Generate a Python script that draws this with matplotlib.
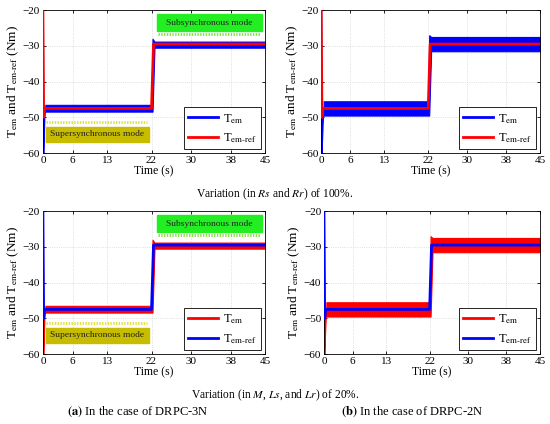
import matplotlib.pyplot as plt
from matplotlib.patches import Rectangle

plt.rcParams['font.family'] = ['Liberation Serif', 'DejaVu Serif']
plt.rcParams['mathtext.fontset'] = 'stix'

# time ticks and y range
xticks = [0, 6, 13, 22, 30, 38, 45]
yticks = [-60, -50, -40, -30, -20]

# reference torque (Nm)
t_ref = [0, 0.15, 0.3, 0.5, 22.0, 22.4, 45]
tem_ref = [-20, -50, -48, -47.5, -47.5, -29.5, -29.5]

# electromagnetic torque, transient part
t_tr = [0, 0.08, 0.3, 0.5]
tem_tr_3n = [-20, -60, -50, -47.5]
tem_tr_2n = [-20, -60, -52, -47.5]

# ripple envelope (upper / lower) after the transient
t_band = [0.5, 22.0, 22.2, 22.6, 45]
up_3n = [-46.5, -46.5, -28.0, -28.8, -28.8]
lo_3n = [-48.4, -48.4, -48.4, -30.5, -30.5]
up_2n = [-45.5, -45.5, -27.0, -27.5, -27.5]
lo_2n = [-49.5, -49.5, -49.5, -31.5, -31.5]

BLUE = '#0000ff'
RED = '#ff0000'

fig = plt.figure(figsize=(5.5, 4.24), dpi=100)

def panel(rect, tem_tr, up, lo, c_tem, c_ref, modes):
    ax = fig.add_axes(rect)
    ax.fill_between(t_band, lo, up, color=c_tem, lw=0.8, zorder=2)
    ax.plot(t_tr, tem_tr, color=c_tem, lw=1.5, zorder=2)
    ax.plot(t_ref, tem_ref, color=c_ref, lw=2.0, zorder=3)
    ax.set_xlim(0, 45)
    ax.set_ylim(-60, -20)
    ax.set_xticks(xticks)
    ax.set_yticks(yticks)
    ax.grid(True, color='#d4d4d4', lw=0.6, ls=':')
    ax.tick_params(labelsize=8, length=2.5, width=0.6, direction='in', pad=2,
                   top=True, right=True)
    for s in ax.spines.values():
        s.set_linewidth(0.6)
    ax.set_xlabel('Time (s)', fontsize=8.5, labelpad=0)
    ax.set_ylabel(r'T$_{\mathrm{em}}$ and T$_{\mathrm{em\text{-}ref}}$ (Nm)',
                  fontsize=9.5, labelpad=1)
    h1, = ax.plot([], [], color=c_tem, lw=2)
    h2, = ax.plot([], [], color=c_ref, lw=2)
    leg = ax.legend([h1, h2], [r'T$_{\mathrm{em}}$', r'T$_{\mathrm{em\text{-}ref}}$'],
                    loc='lower right', fontsize=9, fancybox=False,
                    edgecolor='black', framealpha=1, handlelength=2.4,
                    handletextpad=0.4, borderaxespad=0.3, labelspacing=0.45,
                    borderpad=0.35)
    leg.get_frame().set_linewidth(0.6)
    if modes:
        ax.add_patch(Rectangle((23.1, -25.9), 21.2, 4.8, color='#22ee22', zorder=4))
        ax.text(33.7, -23.5, 'Subsynchronous mode', ha='center', va='center',
                fontsize=6.8, color='#222222', zorder=5)
        ax.plot([23.4, 44.0], [-26.7, -26.7], color='#88e040', lw=2.0,
                ls=(0, (0.5, 0.5)), zorder=4)
        ax.add_patch(Rectangle((0.6, -56.9), 20.9, 4.2, color='#c8bc00', zorder=4))
        ax.text(11.0, -54.8, 'Supersynchronous mode', ha='center', va='center',
                fontsize=6.8, color='#222222', zorder=5)
        ax.plot([0.6, 21.0], [-51.3, -51.3], color='#e0e030', lw=2.0,
                ls=(0, (0.5, 0.5)), zorder=4)
    return ax

panel([0.078, 0.639, 0.404, 0.337], tem_tr_3n, up_3n, lo_3n, BLUE, RED, True)
panel([0.584, 0.639, 0.398, 0.337], tem_tr_2n, up_2n, lo_2n, BLUE, RED, False)
panel([0.078, 0.165, 0.404, 0.337], tem_tr_3n, up_3n, lo_3n, RED, BLUE, True)
panel([0.589, 0.165, 0.393, 0.337], tem_tr_2n, up_2n, lo_2n, RED, BLUE, False)

fig.text(0.5, 1 - 194 / 424, 'Variation (in $\\mathit{Rs}$ and $\\mathit{Rr}$) of 100%.',
         ha='center', va='center', fontsize=8.3)
fig.text(0.5, 1 - 395 / 424,
         'Variation (in $\\mathit{M}$, $\\mathit{Ls}$, and $\\mathit{Lr}$) of 20%.',
         ha='center', va='center', fontsize=8.3)
fig.text(0.25, 1 - 412 / 424, r'$\mathbf{(a)}$ In the case of DRPC-3N',
         ha='center', va='center', fontsize=9)
fig.text(0.75, 1 - 412 / 424, r'$\mathbf{(b)}$ In the case of DRPC-2N',
         ha='center', va='center', fontsize=9)

fig.savefig('out.png', dpi=100)
